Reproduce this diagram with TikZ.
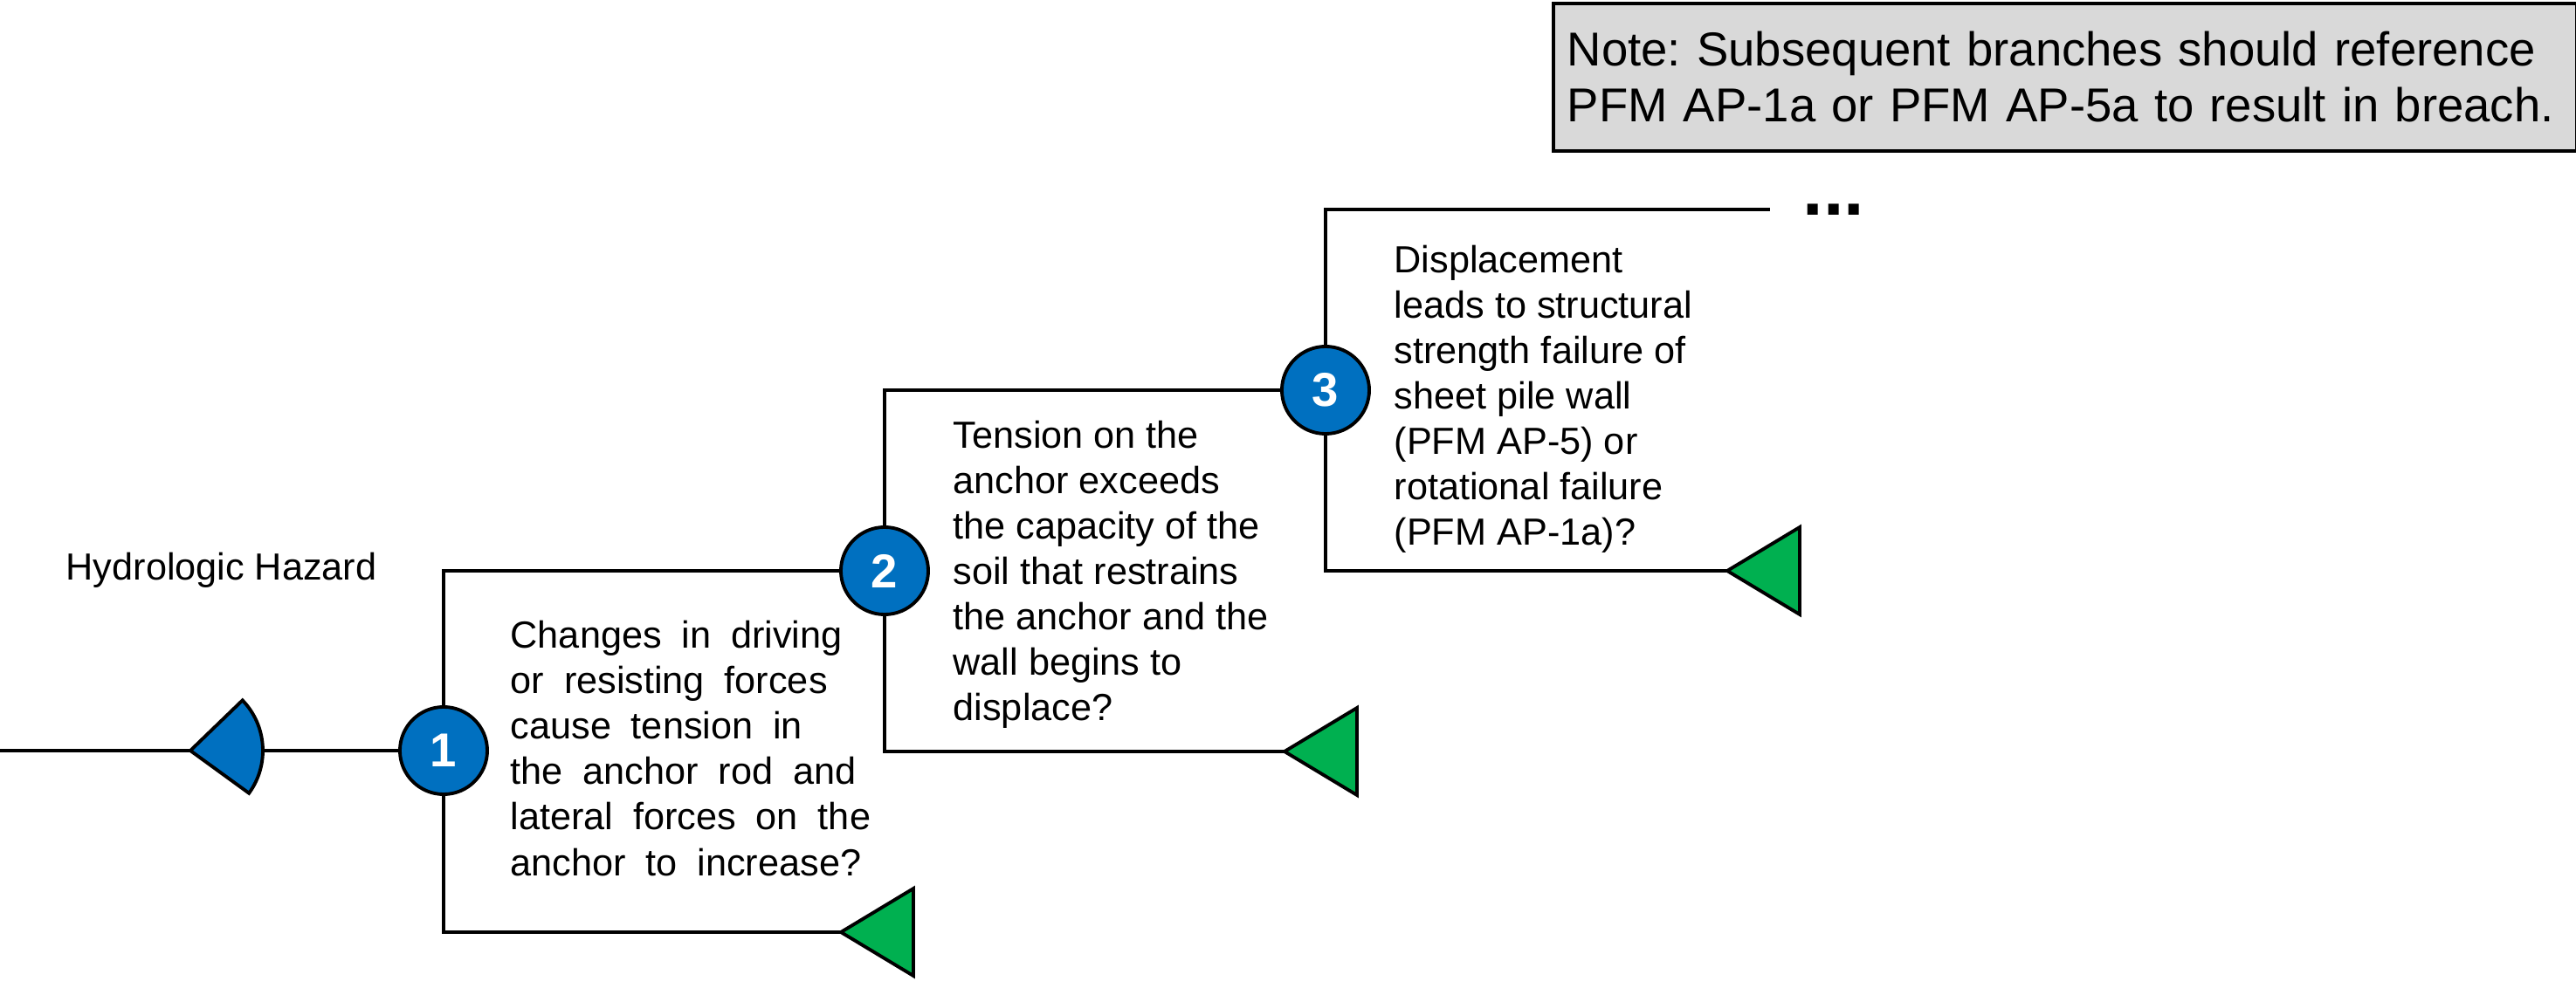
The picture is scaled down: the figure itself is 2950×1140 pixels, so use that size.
\documentclass[tikz,border=0pt]{standalone}
\usepackage{fontspec}
\setmainfont{Liberation Sans}
\frenchspacing
\definecolor{evblue}{HTML}{0070C0}
\definecolor{evgreen}{HTML}{00B050}
\definecolor{notegray}{HTML}{D9D9D9}
\newcommand{\widewords}{\spaceskip 6.5pt\relax}

\begin{document}
\begin{tikzpicture}[x=0.01cm,y=-0.01cm]
    \tikzset{branch/.style={draw=black, line width=0.95pt},
        event/.style={circle, draw=black, line width=1.1pt, fill=evblue, text=white,
            minimum size=1.0cm, inner sep=0pt, font=\bfseries\fontsize{15.5}{18}\selectfont},
        outcome/.style={draw=black, line width=1.1pt, fill=evgreen, line join=miter},
        hazard/.style={draw=black, line width=1.1pt, fill=evblue, line join=miter},
        question/.style={anchor=base west, align=left, inner sep=0pt,
            font=\fontsize{12.3}{14.8}\selectfont},
        notebox/.style={draw=black, line width=1pt, fill=notegray, anchor=north west,
            text width=11.39cm, minimum height=1.69cm, inner xsep=0.16cm,
            align=left, font=\fontsize{15.5}{18.2}\selectfont}}
    \useasboundingbox (0,0) rectangle (2950,1140);

    \coordinate (west) at (0,860);
    \coordinate (hz) at (218,860);
    \coordinate (o1) at (963,1068);
    \coordinate (o2) at (1471,861);
    \coordinate (o3) at (1978,654);
    \coordinate (top) at (2027,240);

    \node[event] (e1) at (508,860) {1};
    \node[event] (e2) at (1013,654) {2};
    \node[event] (e3) at (1518,447) {3};

    \draw[branch] (west) -- (e1);
    \filldraw[hazard] (hz) -- ++(-44:83) arc[start angle=-44, end angle=36, radius=83] -- cycle;

    \draw[branch] (e1) |- (e2);
    \draw[branch] (e1) |- (o1);
    \draw[branch] (e2) |- (e3);
    \draw[branch] (e2) |- (o2);
    \draw[branch] (e3) |- (top);
    \draw[branch] (e3) |- (o3);

    \foreach \o in {o1,o2,o3}
        \filldraw[outcome] (\o) -- ++(83,-50) -- ++(0,100) -- cycle;

    \node[question] (hazlabel) at (75,665) {Hydrologic Hazard};
    \node[question, font=\fontsize{12.3}{14.8}\selectfont\widewords] (q1) at (584,1003)
        {Changes in driving\\or resisting forces\\cause tension in\\the anchor rod and\\lateral forces on the\\anchor to increase?};
    \node[question] (q2) at (1091,826)
        {Tension on the\\anchor exceeds\\the capacity of the\\soil that restrains\\the anchor and the\\wall begins to\\displace?};
    \node[question] (q3) at (1596,625)
        {Displacement\\leads to structural\\strength failure of\\sheet pile wall\\(PFM AP-5) or\\rotational failure\\(PFM AP-1a)?};
    \node[anchor=base west, inner sep=0pt, font=\bfseries\fontsize{24}{28}\selectfont] (more) at (2064,247) {...};

    \node[notebox] (note) at (1777,2)
        {Note: Subsequent branches should reference\\PFM AP-1a or PFM AP-5a to result in breach.};
\end{tikzpicture}
\end{document}
